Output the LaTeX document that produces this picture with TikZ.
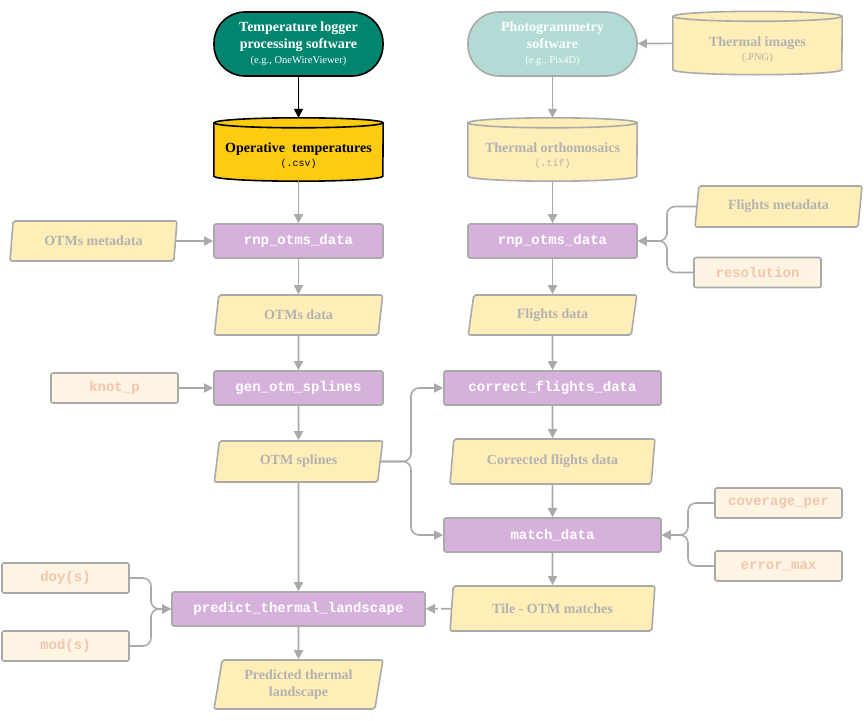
\documentclass[tikz,border=0pt]{standalone}
\usepackage{fontspec}
\setmainfont{Liberation Serif}
\setmonofont{Liberation Mono}
\usetikzlibrary{shapes.geometric,arrows.meta,backgrounds}
\definecolor{procfill}{RGB}{214,177,220}
\definecolor{datafill}{RGB}{255,238,183}
\definecolor{parfill}{RGB}{255,243,227}
\definecolor{partext}{RGB}{240,198,172}
\definecolor{lgrey}{RGB}{170,170,170}
\definecolor{tgrey}{RGB}{178,178,178}
\definecolor{tealdark}{RGB}{0,133,111}
\definecolor{teallight}{RGB}{178,219,213}
\definecolor{gold}{RGB}{253,203,15}
\newcommand{\cyltext}[2]{\raisebox{-7pt}[\height][\depth]{\begin{tabular}{@{}c@{}}#1\\[-3pt]#2\end{tabular}}}
\begin{document}
\begin{tikzpicture}[x=1pt,y=1pt,
 proc/.style={rectangle, rounded corners=2pt, fill=procfill, draw=lgrey, line width=1.6pt, minimum height=34pt, text=white, font=\ttfamily\bfseries\fontsize{14}{17}\selectfont, inner sep=0pt},
 data/.style={trapezium, trapezium left angle=79, trapezium right angle=101, trapezium stretches=true, rounded corners=2pt, fill=datafill, draw=lgrey, line width=1.6pt, text=tgrey, font=\bfseries\fontsize{14}{17}\selectfont, align=center, inner sep=0pt},
 param/.style={rectangle, rounded corners=2pt, fill=parfill, draw=lgrey, line width=1.6pt, minimum width=127pt, minimum height=30pt, text=partext, font=\ttfamily\bfseries\fontsize{14}{17}\selectfont, inner sep=0pt},
 cyl/.style={rectangle, minimum width=169pt, minimum height=63pt, inner sep=0pt, font=\bfseries\fontsize{14}{17}\selectfont},
 soft/.style={rectangle, rounded corners=31pt, minimum width=169pt, minimum height=64pt, line width=1.6pt, align=center, inner sep=0pt, font=\bfseries\fontsize{14}{17}\selectfont},
 arr/.style={draw=lgrey, line width=1.6pt, -{Triangle[length=9pt,width=9pt]}},
]
\useasboundingbox (0,0) rectangle (864,-720);

% software
\node[soft, fill=tealdark, draw=black, text=white] (tls) at (298.5,-44) {Temperature logger\\processing software\\[-2pt]{\mdseries\fontsize{10.5}{17}\selectfont (e.g., OneWireViewer)}};
\node[soft, fill=teallight, draw=lgrey, text=white] (pgs) at (552.5,-44) {Photogrammetry\\software\\[-2pt]{\mdseries\fontsize{10.5}{17}\selectfont (e.g., Pix4D)}};

% cylinders
\node[cyl, text=black] (opt) at (298.5,-149.5) {\cyltext{Operative\ \ temperatures}{\ttfamily\mdseries\fontsize{10}{12}\selectfont (.csv)}};
\node[cyl, text=tgrey] (tim) at (757.5,-43) {\cyltext{Thermal images}{\mdseries\fontsize{10.5}{12}\selectfont (.PNG)}};
\node[cyl, text=tgrey] (tor) at (552.5,-149.5) {\cyltext{Thermal orthomosaics}{\ttfamily\mdseries\fontsize{10}{12}\selectfont (.tif)}};
\begin{scope}[on background layer]
\foreach \n/\f/\d in {opt/gold/black, tim/datafill/lgrey, tor/datafill/lgrey}{
  \draw[fill=\f, draw=\d, line width=1.6pt] ([yshift=-5pt]\n.north west) -- ([yshift=5pt]\n.south west) arc[start angle=180, end angle=360, x radius=84.5pt, y radius=5pt] -- ([yshift=-5pt]\n.north east) arc[start angle=0, end angle=180, x radius=84.5pt, y radius=5pt] -- cycle;
  \draw[draw=\d, line width=1.6pt] ([yshift=-5pt]\n.north west) arc[start angle=180, end angle=360, x radius=84.5pt, y radius=5pt];
}
\end{scope}

% data
\node[data, minimum width=167pt, minimum height=40pt] (omd) at (93.5,-241) {OTMs metadata};
\node[data, minimum width=169pt, minimum height=40pt] (otd) at (298.5,-315) {OTMs data};
\node[data, minimum width=169pt, minimum height=41pt] (spl) at (298.5,-461.5) {OTM splines};
\node[data, minimum width=169pt, minimum height=49pt] (ptl) at (298.5,-684.5) {Predicted thermal\\landscape};
\node[data, minimum width=167pt, minimum height=41pt] (fmd) at (778.5,-206.5) {Flights metadata};
\node[data, minimum width=169pt, minimum height=40pt] (fld) at (552.5,-315) {Flights data};
\node[data, minimum width=205pt, minimum height=45pt] (cfd) at (552.5,-461.5) {Corrected flights data};
\node[data, minimum width=205pt, minimum height=45pt] (tom) at (552.5,-608.5) {Tile - OTM matches};

% processes
\node[proc, minimum width=169pt] (rnpL) at (298.5,-241) {rnp\_otms\_data};
\node[proc, minimum width=169pt] (rnpR) at (552.5,-241) {rnp\_otms\_data};
\node[proc, minimum width=169pt] (gos) at (298.5,-388) {gen\_otm\_splines};
\node[proc, minimum width=217pt] (cfl) at (552.5,-388) {correct\_flights\_data};
\node[proc, minimum width=217pt] (mtd) at (552.5,-535) {match\_data};
\node[proc, minimum width=253pt] (ptlp) at (298.5,-609) {predict\_thermal\_landscape};

% parameters
\node[param] (res) at (757.5,-272.5) {resolution};
\node[param] (knp) at (114.5,-388) {knot\_p};
\node[param] (cov) at (778.5,-503) {coverage\_per};
\node[param] (emx) at (778.5,-566) {error\_max};
\node[param] (doy) at (65.5,-578) {doy(s)};
\node[param] (mod) at (65.5,-646) {mod(s)};

% connectors
\draw[arr, draw=black] (tls) -- (opt);
\draw[arr] (tim) -- (pgs);
\draw[arr] (pgs) -- (tor);
\draw[arr] (opt) -- (rnpL);
\draw[arr] (omd) -- (rnpL);
\draw[arr] (rnpL) -- (otd);
\draw[arr] (otd) -- (gos);
\draw[arr] (knp) -- (gos);
\draw[arr] (gos) -- (spl);
\draw[arr] (spl) -- (ptlp);
\draw[arr] (ptlp) -- (ptl);
\draw[arr] (tor) -- (rnpR);
\draw[arr] (rnpR) -- (fld);
\draw[arr] (fld) -- (cfl);
\draw[arr] (cfl) -- (cfd);
\draw[arr] (cfd) -- (mtd);
\draw[arr] (mtd) -- (tom);
\draw[arr, dash pattern=on 10pt off 3pt] (tom) -- (ptlp);

\coordinate (jR) at (667,-241);
\draw[arr, rounded corners=8pt] (fmd.west) -| (jR) -- (rnpR.east);
\draw[arr, rounded corners=8pt] (res.west) -| (jR) -- (rnpR.east);

\coordinate (jS) at (411,-461);
\draw[arr, rounded corners=8pt] (spl.east) -- (spl.east -| jS) |- (cfl.west);
\draw[arr, rounded corners=8pt] (spl.east) -- (spl.east -| jS) |- (mtd.west);

\coordinate (jM) at (688,-535);
\draw[arr, rounded corners=8pt] (cov.west) -| (jM) -- (mtd.east);
\draw[arr, rounded corners=8pt] (emx.west) -| (jM) -- (mtd.east);

\coordinate (jP) at (151,-609);
\draw[arr, rounded corners=8pt] (doy.east) -| (jP) -- (ptlp.west);
\draw[arr, rounded corners=8pt] (mod.east) -| (jP) -- (ptlp.west);
\end{tikzpicture}
\end{document}
